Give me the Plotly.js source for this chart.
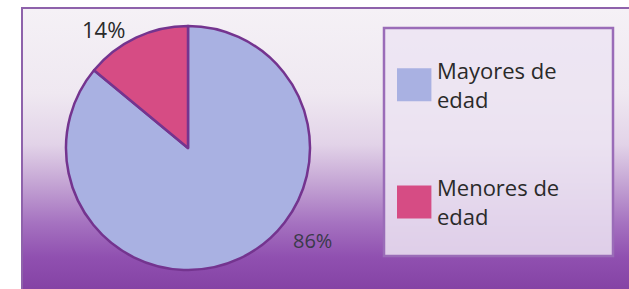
<!DOCTYPE html>
<html>
<head>
<meta charset="utf-8">
<script src="https://cdn.plot.ly/plotly-3.0.1.min.js"></script>
<style>
  html, body { margin: 0; padding: 0; background: #ffffff; }
  #wrap { position: relative; width: 629px; height: 289px; overflow: hidden; }
  #bg {
    position: absolute; left: 21px; top: 7px; width: 606px; height: 282px;
    border-top: 2px solid #8e62ab; border-left: 2px solid #8e62ab;
    background: linear-gradient(to bottom, #f5f1f6 0%, #efe8f1 30%, #e2d3e8 48%, #c4a4d4 62%, #a572c0 76%, #9050b0 88%, #8442a4 100%);
  }
  #chart { position: absolute; left: 0; top: 0; width: 629px; height: 289px; }
</style>
</head>
<body>
<div id="wrap">
  <div id="bg"></div>
  <div id="chart"></div>
</div>
<script>
// Data
var categories = ["Mayores de edad", "Menores de edad"];
var legendLabels = ["Mayores de<br>edad", "Menores de<br>edad"];
var values = [86, 14];
var sliceColors = ["#a9b1e2", "#d64c84"];

var total = values.reduce(function (a, b) { return a + b; }, 0);
var pctText = values.map(function (v) { return Math.round(v / total * 100) + "%"; });

var pad = "\u00a0";
var trace = {
  type: "pie",
  labels: legendLabels.map(function (l) { return pad + "<br>" + l + "<br>" + pad; }),
  values: values,
  sort: false,
  direction: "clockwise",
  rotation: 0,
  textinfo: "none",
  hoverinfo: "none",
  marker: { colors: sliceColors, line: { color: "#74348f", width: 2.5 } },
  domain: { x: [66 / 629, 310 / 629], y: [19 / 289, 263 / 289] }
};

var layout = {
  width: 629, height: 289,
  margin: { l: 0, r: 0, t: 0, b: 0 },
  paper_bgcolor: "rgba(0,0,0,0)",
  plot_bgcolor: "rgba(0,0,0,0)",
  font: { family: "Open Sans, sans-serif", color: "#2a2a2a" },
  showlegend: true,
  legend: {
    x: 397 / 629, xanchor: "left",
    y: 1 - 21 / 289, yanchor: "top",
    bgcolor: "rgba(0,0,0,0)", borderwidth: 0,
    font: { size: 22, color: "#2a2a2a", family: "Open Sans, sans-serif" },
    valign: "middle"
  },
  shapes: [{
    type: "rect", xref: "paper", yref: "paper", layer: "below",
    x0: 384 / 629, x1: 613 / 629, y0: 1 - 256 / 289, y1: 1 - 28 / 289,
    fillcolor: "rgba(236,228,242,0.85)",
    line: { color: "#9a6cb8", width: 2.5 }
  }],
  annotations: [
    { text: pctText[1], xref: "paper", yref: "paper", x: 104 / 629, y: 1 - 29 / 289,
      xanchor: "center", yanchor: "middle", showarrow: false,
      font: { size: 22, color: "#2a2a2a", family: "Open Sans, sans-serif" } },
    { text: pctText[0], xref: "paper", yref: "paper", x: 312 / 629, y: 1 - 240 / 289,
      xanchor: "center", yanchor: "middle", showarrow: false,
      font: { size: 20, color: "#3a3a4a", family: "Open Sans, sans-serif" } }
  ]
};

Plotly.newPlot("chart", [trace], layout, { displayModeBar: false, staticPlot: true }).then(function (gd) {
  var pts = gd.querySelectorAll(".legend .legendpoints path");
  pts.forEach(function (p) {
    p.setAttribute("transform", "translate(17,0) scale(2.9,2.75)");
    p.style.strokeWidth = "0";
  });
});
</script>
</body>
</html>
